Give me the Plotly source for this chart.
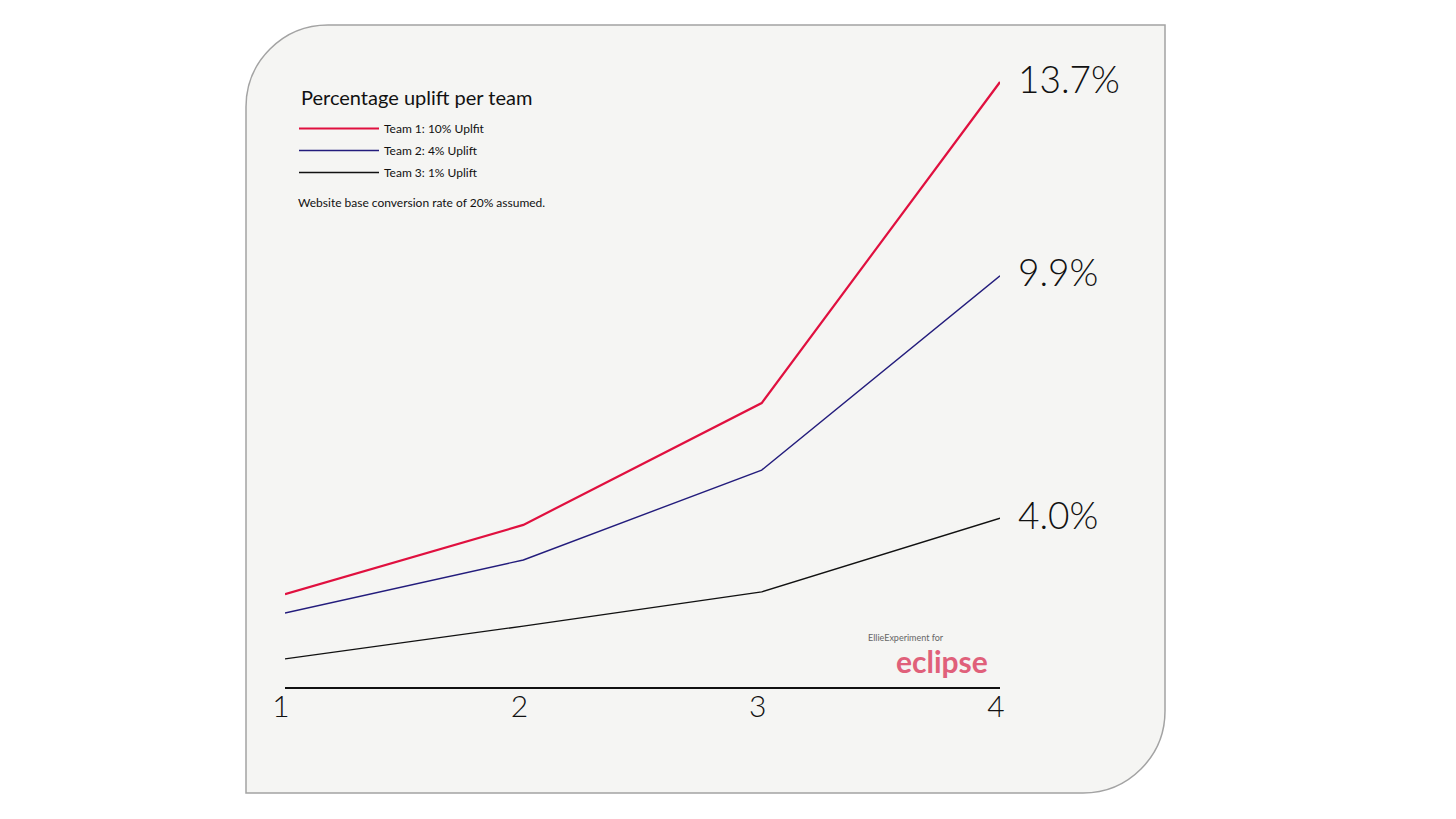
import plotly.graph_objects as go

# 資料
steps = [1, 2, 3, 4]
team_names = ["Team 1: 10% Uplfit", "Team 2: 4% Uplift", "Team 3: 1% Uplift"]
team1 = [2.31, 3.85, 6.56, 13.70]
team2 = [1.89, 3.07, 5.07, 9.39]
team3 = [0.87, 1.60, 2.36, 4.00]
end_labels = ["13.7%", "9.9%", "4.0%"]
colors = ["#e0103f", "#231c7c", "#111111"]
widths = [2.2, 1.4, 1.4]

W, H = 1456, 819
FONT = "Lato"


def px_x(p):
    return p / W


def px_y(p):
    return 1 - p / H


fig = go.Figure()

series = [team1, team2, team3]
for name, vals, c, w in zip(team_names, series, colors, widths):
    fig.add_trace(go.Scatter(x=steps, y=vals, mode="lines", name=name,
                             legendgroup=name,
                             line=dict(color=c, width=w),
                             hoverinfo="skip"))

# 右側數字標籤
for vals, lab in zip(series, end_labels):
    fig.add_annotation(x=steps[-1], y=vals[-1], text=lab, showarrow=False,
                       xanchor="left", yanchor="middle", xshift=16, yshift=4,
                       font=dict(family=FONT, size=37, color="#111", weight=300))

# 卡片背景 (左上、右下圓角)
x0, x1 = px_x(246), px_x(1165)
y0, y1 = px_y(793), px_y(25)
rx, ry = 82 / W, 82 / H
k = 0.5523
card = (f"M {x0} {y0} "
        f"L {x1 - rx} {y0} "
        f"C {x1 - rx + k * rx} {y0} {x1} {y0 + ry - k * ry} {x1} {y0 + ry} "
        f"L {x1} {y1} "
        f"L {x0 + rx} {y1} "
        f"C {x0 + rx - k * rx} {y1} {x0} {y1 - ry + k * ry} {x0} {y1 - ry} Z")
fig.add_shape(type="path", path=card, xref="paper", yref="paper",
              fillcolor="#f5f5f3", line=dict(color="#a3a3a3", width=1.5),
              layer="below")

# 圖例標題
fig.add_annotation(x=px_x(299), y=px_y(97), xref="paper", yref="paper",
                   text="Percentage uplift per team", showarrow=False,
                   xanchor="left", yanchor="middle",
                   font=dict(family=FONT, size=20, color="#111"))

fig.add_annotation(x=px_x(296), y=px_y(202), xref="paper", yref="paper",
                   text="Website base conversion rate of 20% assumed.",
                   showarrow=False, xanchor="left", yanchor="middle",
                   font=dict(family=FONT, size=12, color="#111"))

fig.add_annotation(x=px_x(866), y=px_y(637), xref="paper", yref="paper",
                   text="EllieExperiment for", showarrow=False,
                   xanchor="left", yanchor="middle",
                   font=dict(family=FONT, size=9, color="#666"))
fig.add_annotation(x=px_x(990), y=px_y(661), xref="paper", yref="paper",
                   text="eclipse", showarrow=False,
                   xanchor="right", yanchor="middle",
                   font=dict(family=FONT, size=30, color="#e0607a", weight=700))

fig.update_xaxes(domain=[px_x(285), px_x(1000)], range=[1, 4],
                 tickvals=steps, ticktext=[str(s) for s in steps],
                 showgrid=False, zeroline=False, automargin=False,
                 showline=True, linecolor="#111", linewidth=1.5,
                 ticks="", ticklabelstandoff=-8, ticklabelshift=-4,
                 tickfont=dict(family=FONT, size=30, color="#111", weight=300))
fig.update_yaxes(domain=[px_y(687), px_y(60)], range=[0.245, 14.19],
                 visible=False, showgrid=False, zeroline=False, automargin=False)

fig.update_layout(
    width=W, height=H,
    margin=dict(l=0, r=0, t=0, b=0, autoexpand=False),
    paper_bgcolor="white", plot_bgcolor="rgba(0,0,0,0)",
    font=dict(family=FONT, color="#111"),
    legend=dict(x=px_x(294), y=px_y(114), xanchor="left", yanchor="top",
                bgcolor="rgba(0,0,0,0)",
                font=dict(family=FONT, size=12, color="#111"),
                itemwidth=80, tracegroupgap=3),
)

fig.write_html("out.html", config={"displayModeBar": False},
               post_script="document.body.style.margin='0';")
